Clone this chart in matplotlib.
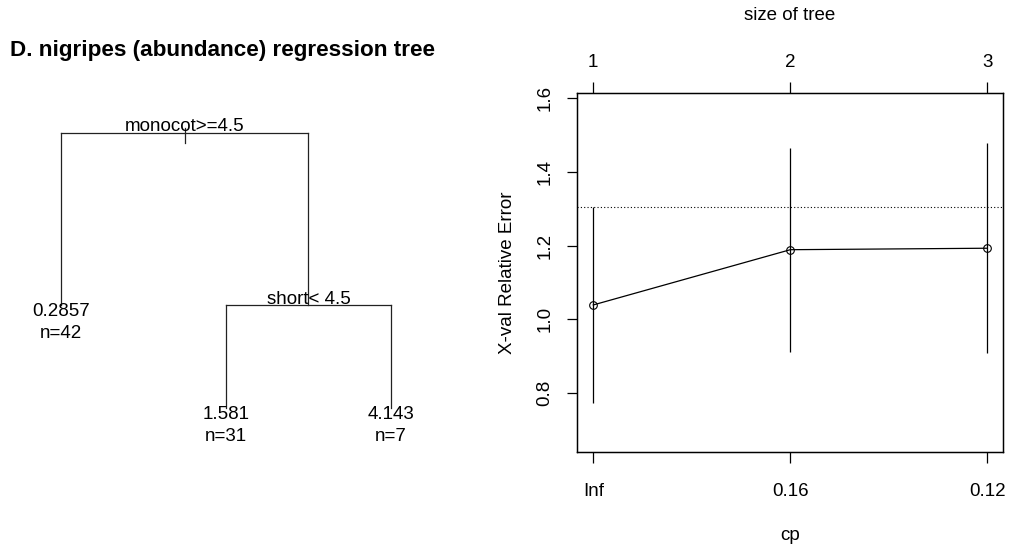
import matplotlib
matplotlib.use("Agg")
import matplotlib.pyplot as plt

plt.rcParams["font.family"] = ["Liberation Sans", "DejaVu Sans"]

# cp table (right panel)
tree_sizes = [1, 2, 3]
cp_labels = ["Inf", "0.16", "0.12"]
xerror = [1.039, 1.189, 1.193]
xstd = [0.265, 0.277, 0.285]
min_se_line = 1.304

# regression tree (left panel)
split_labels = ["monocot>=4.5", "short< 4.5"]
leaf_values = ["0.2857", "1.581", "4.143"]
leaf_counts = [42, 31, 7]
root_height = 1.0
split2_height = 0.373
leaf_heights = [0.375, 0.0, 0.0]

FS = 13.5


def draw_tree(ax):
    leaf_x = [1, 2, 3]
    split2_x = (leaf_x[1] + leaf_x[2]) / 2
    root_x = (leaf_x[0] + split2_x) / 2
    kw = dict(color="#222222", lw=0.9)

    # root split
    ax.plot([leaf_x[0], split2_x], [root_height, root_height], **kw)
    ax.plot([leaf_x[0], leaf_x[0]], [root_height, leaf_heights[0]], **kw)
    ax.plot([split2_x, split2_x], [root_height, split2_height], **kw)
    ax.plot([root_x, root_x], [root_height + 0.018, root_height - 0.036], **kw)
    # second split
    ax.plot([leaf_x[1], leaf_x[2]], [split2_height, split2_height], **kw)
    ax.plot([leaf_x[1], leaf_x[1]], [split2_height, leaf_heights[1]], **kw)
    ax.plot([leaf_x[2], leaf_x[2]], [split2_height, leaf_heights[2]], **kw)

    for lab, x, y in zip(split_labels, [root_x, split2_x], [root_height, split2_height]):
        ax.annotate(lab, (x, y), xytext=(0, 1.5), textcoords="offset pixels",
                    ha="center", va="baseline", fontsize=FS)
    for val, n, x, y in zip(leaf_values, leaf_counts, leaf_x, leaf_heights):
        ax.annotate(val, (x, y), xytext=(0, -11.2), textcoords="offset pixels",
                    ha="center", va="baseline", fontsize=FS)
        ax.annotate(f"n={n}", (x, y), xytext=(0, -33.5), textcoords="offset pixels",
                    ha="center", va="baseline", fontsize=FS)

    ax.set_xlim(0.6303, 3.688)
    ax.set_ylim(-0.5055, 1.4836)
    ax.axis("off")


def draw_cp(ax):
    x = range(1, len(xerror) + 1)
    lo = [m - s for m, s in zip(xerror, xstd)]
    hi = [m + s for m, s in zip(xerror, xstd)]
    ax.vlines(x, lo, hi, color="black", lw=0.9)
    ax.plot(x, xerror, color="black", lw=0.9, marker="o", ms=5.5,
            mfc="none", mec="black", mew=0.8)
    ax.axhline(min_se_line, color="black", lw=0.8, ls=(0, (1, 2)))

    ax.set_xlim(0.9157, 3.078)
    ax.set_ylim(0.6405, 1.6136)
    ax.set_xticks(list(x))
    ax.set_xticklabels(cp_labels)
    ax.set_yticks([0.8, 1.0, 1.2, 1.4, 1.6])
    ax.set_yticklabels(["0.8", "1.0", "1.2", "1.4", "1.6"])
    ax.tick_params(axis="x", length=8.2, width=0.9, pad=14.5, labelsize=FS)
    ax.tick_params(axis="y", length=7.2, width=0.9, pad=9.5, labelsize=FS,
                   labelrotation=90)
    for lab in ax.get_yticklabels():
        lab.set_va("center")
    for sp in ax.spines.values():
        sp.set_linewidth(1.0)

    top = ax.twiny()
    top.set_xlim(ax.get_xlim())
    top.set_xticks(list(x))
    top.set_xticklabels([str(s) for s in tree_sizes])
    top.tick_params(axis="x", length=7.6, width=0.9, pad=8.5, labelsize=FS)


fig = plt.figure(figsize=(10.09, 5.47), dpi=100)
ax_tree = fig.add_axes([0, 0, 0.5, 1])
draw_tree(ax_tree)
fig.text(10 / 1009, 1 - 56 / 547, "D. nigripes (abundance) regression tree",
         fontsize=16.2, fontweight="bold", ha="left", va="baseline")

ax_cp = fig.add_axes([0.5715, 0.1742, 0.4223, 0.6552])
draw_cp(ax_cp)
fig.text(789.7 / 1009, 1 - 535 / 547, "cp", fontsize=FS, ha="center", va="center")
fig.text(789.7 / 1009, 1 - 15 / 547, "size of tree", fontsize=FS, ha="center", va="center")
fig.text(507 / 1009, 1 - 272.5 / 547, "X-val Relative Error", fontsize=FS,
         ha="center", va="center", rotation=90)

fig.savefig("out.png", dpi=100)
